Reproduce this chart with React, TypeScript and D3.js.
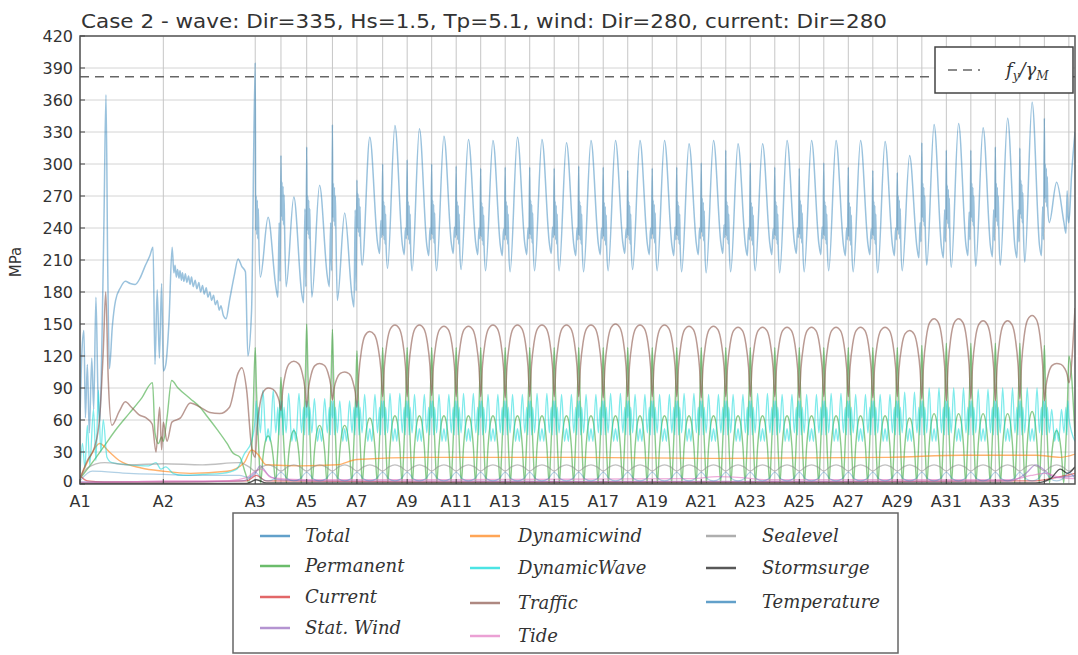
import React from "react";
import * as d3 from "d3";

type Pt = [number, number];

// ---------- axis data ----------
const supportLabels = ["A1","A2","A3","A4","A5","A6","A7","A8","A9","A10","A11","A12","A13","A14","A15","A16","A17","A18","A19","A20","A21","A22","A23","A24","A25","A26","A27","A28","A29","A30","A31","A32","A33","A34","A35","A36"];
const supportPos = [0, 34, 71.5, 82, 92.5, 103, 113, 123.5, 133.5, 143.5, 153.5, 163.5, 173.5, 183.5, 193.5, 203.5, 213.5, 223.5, 233.5, 243.5, 253.5, 263.5, 273.5, 283.5, 293.5, 303.5, 313.5, 323.5, 333.5, 343.5, 353.5, 363.5, 373.5, 383.5, 393.5, 403.5];
const xTickLabels = ["A1","A2","A3","A5","A7","A9","A11","A13","A15","A17","A19","A21","A23","A25","A27","A29","A31","A33","A35"];
const yTickValues = [0, 30, 60, 90, 120, 150, 180, 210, 240, 270, 300, 330, 360, 390, 420];
const xDomainEnd = 406;
const designLimit = 381.8; // f_y / gamma_M

// ---------- Total ----------
const totalHead: Pt[] = [[0,60],[0.8,125],[1.6,144],[2.2,62],[3,112],[3.8,48],[4.8,118],[5.6,70],[6.5,175],[7.3,88],[8.1,58],[9,140],[9.8,250],[10.6,365],[11.3,205],[12,108],[13.2,148],[14.5,172],[16.5,184],[18.5,190],[20.5,188],[22.5,187],[24.5,193],[26.5,204],[28.5,214],[29.8,222],[30.6,112],[31.5,182],[32.4,118],[33.3,188],[34,106],[35,112],[36.3,152],[37.6,222],[38.3,198],[38.8,205],[39.3,194],[39.8,201],[40.4,193],[40.8,200],[41.4,191],[41.8,198],[42.4,190],[43,197],[43.6,189],[44.3,195],[44.9,187],[45.5,194],[46.2,185],[47,191],[47.7,183],[48.5,189],[49.2,180],[50,186],[50.7,178],[51.5,184],[52.2,175],[53,180],[53.7,172],[54.5,177],[55.2,168],[56,172],[56.8,163],[57.5,167],[58.5,158],[59.6,155],[61,172],[63,196],[64.5,211],[66,204],[67.5,199],[68.5,120],[70,162]];
// spans A3-A4 ... A35-A36
const totalSpike = [395,308,316,337,285,300,304,300,298,296,297,297,296,298,297,294,296,297,301,313,301,297,296,301,297,294,292,320,313,313,316,315,343];
const totalPeak = [250,269,280,254,325,336,333,326,323,322,325,323,320,322,322,322,322,319,322,319,319,322,322,322,322,321,308,337,338,334,343,358,283];
const totalLow1 = [194,185,175,172,205,202,200,200,201,200,199,200,200,199,200,201,200,199,198,199,200,198,199,200,199,198,200,205,203,204,205,208,245];
const totalLow2 = [175,170,185,166,216,215,214,216,215,214,215,216,214,215,216,215,214,215,216,214,215,216,215,214,215,214,212,212,214,213,212,214,235];
const totalDark = [250,263,250,262,252,245,245,246,245,244,245,246,245,245,244,245,246,245,248,245,244,245,246,245,244,245,250,262,260,262,262,265,280];
const totalTail: Pt[] = [[403.5,245],[404.6,290],[406,330]];

// ---------- Traffic ----------
const trafficHead: Pt[] = [[0,5],[3,22],[6,35],[8,62],[9.5,125],[10.5,180],[11.5,100],[13,55],[16,68],[18.5,77],[21,72],[24,65],[27,62],[29.5,56],[31,30],[32.5,72],[33.3,32],[34,58],[35.5,40],[37.5,58],[41,62],[45,76],[49,72],[53,67],[57,66],[61,72],[64.5,104],[66,109],[68,88],[70,35]];
const trafficTrough = [25,69,72,79,72,82,82,83,82,82,81,82,82,82,81,82,82,82,81,82,82,82,81,82,82,81,82,80,78,80,78,80,78,95];
const trafficPeak = [90,115,113,105,143,149,149,148,148,149,149,149,149,149,150,149,149,148,148,147,147,147,147,147,147,147,144,155,155,153,153,158,113];
const trafficShape: Pt[] = [[0,0],[0.07,0.42],[0.18,0.76],[0.32,0.95],[0.5,1],[0.68,0.95],[0.82,0.76],[0.93,0.42]];
const trafficTail: Pt[] = [[406,165]];

// ---------- Permanent ----------
const permanentHead: Pt[] = [[0,5],[5,20],[10,36],[15,52],[20,66],[25,80],[29.6,95],[30.6,48],[32,38],[33.3,44],[34,40],[35.5,62],[37.4,97],[40,90],[45,80],[49,72],[52,63],[56,51],[60,38],[62.4,29],[65.3,25],[67.5,10],[69,1],[70.5,55]];
const permanentSupport = [128,100,150,145,125,128,128,128,128,128,128,128,128,128,128,128,128,128,128,128,128,128,128,128,128,128,128,130,132,132,132,132,130,120];
const permanentMid = [45,50,55,55,62,64,64,64,64,64,64,64,64,64,64,64,64,64,64,64,64,64,64,64,64,64,62,66,66,66,66,68,50];
// [fraction of span, reference (0 start support, 1 mid-span, 2 end support, -1 zero), factor]
const permanentShape: [number, number, number][] = [[0,0,1],[0.05,0,0.68],[0.1,0,0.42],[0.15,0,0.2],[0.21,-1,0],[0.3,1,0.55],[0.4,1,0.9],[0.5,1,1],[0.6,1,0.9],[0.7,1,0.55],[0.79,-1,0],[0.85,2,0.2],[0.9,2,0.42],[0.95,2,0.68]];
const permanentTail: Pt[] = [[406,45]];

// ---------- DynamicWave ----------
const dynWaveHead: Pt[] = [[0,10],[1,38],[2,15],[3,55],[4,18],[5.5,70],[6.5,22],[7.5,88],[8.5,30],[9.5,60],[11,25],[13,20],[20,18],[28,17],[31,20],[33,14],[35,16],[38,10],[42,8],[50,9],[58,10],[64,14],[67,28],[70,40]];
const dynWavePeak = [88,85,80,78,84,85,84,84,85,84,84,85,84,84,85,84,84,85,84,84,85,84,84,85,84,84,86,90,90,89,90,90,70];
// value -1 marks the span's peak value
const dynWaveShape: Pt[] = [[0,62],[0.04,78],[0.08,46],[0.12,72],[0.2,48],[0.3,-1],[0.42,40],[0.5,52],[0.58,40],[0.7,-1],[0.8,48],[0.88,72],[0.92,46],[0.96,78]];
const dynWaveTail: Pt[] = [[403.5,62],[406,40]];

// ---------- Sealevel / Temperature ----------
const sealevelHead: Pt[] = [[0,5],[3,15],[10,20],[20,18],[34,19],[50,18],[65,20],[69,16]];
const sealevelShape: Pt[] = [[0,12],[0.25,16],[0.5,18],[0.75,16]];
const temperatureHead: Pt[] = [[0,3],[5,12],[20,10],[34,9],[50,8],[65,8],[69,6]];
const temperatureShape: Pt[] = [[0,11],[0.25,5],[0.5,3],[0.75,5]];

// ---------- small series ----------
const dynamicWind: Pt[] = [[0,5],[4,25],[8,38],[12,30],[16,22],[25,15],[34,12],[45,10],[60,12],[67,20],[70,32],[72.5,28],[76,18],[90,17],[105,18],[113,23],[140,25],[200,25],[260,24],[330,25],[360,27],[390,27],[400,25],[406,28]];
const tide: Pt[] = [[0,1],[20,2],[34,3],[60,3],[68,6],[71.5,12],[74,14],[78,6],[90,4],[150,4],[250,5],[260,7],[270,6],[280,4],[380,4],[388,8],[394,10],[400,6],[406,5]];
const current: Pt[] = [[0,8],[3,3],[10,2],[34,2],[68,3],[72,8],[76,3],[150,2],[300,2],[390,3],[398,6],[406,10]];
const statWind: Pt[] = [[0,2],[34,2],[66,3],[71.5,10],[73.5,17],[77,8],[82,4],[100,3],[200,2.5],[300,2.5],[380,3],[386,10],[390,18],[394,12],[398,6],[406,8]];
const stormsurge: Pt[] = [[0,0.5],[68,0.5],[72,4],[76,1],[390,1],[396,5],[400,14],[403,10],[406,16]];

// ---------- builders ----------
const FIRST = 2; // index of A3
const spanCount = supportPos.length - 1 - FIRST;

function forSpans(fn: (a: number, b: number, s: number) => Pt[]): Pt[] {
  const out: Pt[] = [];
  for (let s = 0; s < spanCount; s++) {
    const a = supportPos[FIRST + s];
    const b = supportPos[FIRST + s + 1];
    out.push(...fn(a, b, s));
  }
  return out;
}

const totalData: Pt[] = [
  ...totalHead,
  ...forSpans((a, b, s) => {
    const L = b - a, d = totalDark[s];
    return [
      [a, totalSpike[s]], [a + 0.02 * L, d - 12], [a + 0.04 * L, d + 20], [a + 0.06 * L, d - 16],
      [a + 0.08 * L, d + 16], [a + 0.1 * L, d - 20], [a + 0.12 * L, d + 8], [a + 0.14 * L, d - 22],
      [a + 0.2 * L, totalLow1[s]], [a + 0.5 * L, totalPeak[s]],
      [a + 0.8 * L, totalLow2[s] + 10], [a + 0.88 * L, totalLow2[s]], [a + 0.93 * L, d - 5], [a + 0.965 * L, totalLow2[s] + 15],
    ] as Pt[];
  }),
  ...totalTail,
];

const trafficData: Pt[] = [
  ...trafficHead,
  ...forSpans((a, b, s) => trafficShape.map(([f, k]) => {
    const t = f <= 0.5 ? trafficTrough[s] : trafficTrough[s + 1];
    return [a + f * (b - a), t + k * (trafficPeak[s] - t)] as Pt;
  })),
  [supportPos[supportPos.length - 1], trafficTrough[trafficTrough.length - 1]],
  ...trafficTail,
];

const permanentData: Pt[] = [
  ...permanentHead,
  ...forSpans((a, b, s) => permanentShape.map(([f, r, k]) => {
    const ref = r === 0 ? permanentSupport[s] : r === 1 ? permanentMid[s] : r === 2 ? permanentSupport[s + 1] : 0;
    return [a + f * (b - a), Math.max(1, k * ref)] as Pt;
  })),
  [supportPos[supportPos.length - 1], permanentSupport[permanentSupport.length - 1]],
  ...permanentTail,
];

const dynWaveData: Pt[] = [
  ...dynWaveHead,
  ...forSpans((a, b, s) => dynWaveShape.map(([f, v]) => [a + f * (b - a), v < 0 ? dynWavePeak[s] : v] as Pt)),
  ...dynWaveTail,
];

const sealevelData: Pt[] = [
  ...sealevelHead,
  ...forSpans((a, b) => sealevelShape.map(([f, v]) => [a + f * (b - a), v] as Pt)),
  [supportPos[supportPos.length - 1], sealevelShape[0][1]],
  [xDomainEnd, sealevelShape[1][1]],
];

const temperatureData: Pt[] = [
  ...temperatureHead,
  ...forSpans((a, b) => temperatureShape.map(([f, v]) => [a + f * (b - a), v] as Pt)),
  [supportPos[supportPos.length - 1], temperatureShape[0][1]],
  [xDomainEnd, temperatureShape[1][1]],
];

const seriesNames = ["Total","Permanent","Current","Stat. Wind","Dynamicwind","DynamicWave","Traffic","Tide","Sealevel","Stormsurge","Temperature"];
const seriesData: Pt[][] = [totalData, permanentData, current, statWind, dynamicWind, dynWaveData, trafficData, tide, sealevelData, stormsurge, temperatureData];

// styles
const seriesColors = ["#1f77b4","#2ca02c","#d62728","#9467bd","#ff7f0e","#00d8d8","#8c564b","#e377c2","#8c8c8c","#111111","#1f77b4"];
const seriesOpacity = [0.45, 0.55, 0.6, 0.6, 0.6, 0.5, 0.6, 0.6, 0.55, 0.7, 0.35];
const seriesWidth = [1.5, 1.4, 1.3, 1.3, 1.4, 1.3, 1.5, 1.3, 1.3, 1.3, 1.2];

export default function App() {
  const W = 1078, H = 655;
  const L = 80, R = 1075, T = 36, B = 484;
  const x = d3.scaleLinear().domain([0, xDomainEnd]).range([L, R]);
  const y = d3.scaleLinear().domain([0, 420]).range([B, T]);
  const line = d3.line<Pt>().x((d) => x(d[0])).y((d) => y(d[1])).curve(d3.curveMonotoneX);

  const tickFont = "DejaVu Sans, Verdana, sans-serif";
  const legFont = "DejaVu Serif, serif";

  // legend layout
  const colX = [260, 470, 706];
  const textX = [305, 518, 762];
  const rowY = [[536, 566, 597, 628], [536, 568, 603, 636], [536, 568, 602]];
  const legendItems: { name: string; color: string; lx: number; tx: number; ly: number }[] = [];
  const perCol = [4, 4, 3];
  let idx = 0;
  perCol.forEach((n, c) => {
    for (let r = 0; r < n; r++) {
      legendItems.push({ name: seriesNames[idx], color: seriesColors[idx], lx: colX[c], tx: textX[c], ly: rowY[c][r] });
      idx++;
    }
  });

  return (
    <svg width={W} height={H} style={{ position: "absolute", left: 0, top: 0, background: "#fff" }} xmlns="http://www.w3.org/2000/svg">
      <defs>
        <clipPath id="plotClip">
          <rect x={L} y={T} width={R - L} height={B - T} />
        </clipPath>
      </defs>
      <rect x={0} y={0} width={W} height={H} fill="#fff" />
      {/* grid */}
      <g>
        {yTickValues.map((v) => (
          <line key={"gy" + v} x1={L} x2={R} y1={y(v)} y2={y(v)} stroke="#d4d4d4" strokeWidth={1} />
        ))}
        {supportPos.map((p, i) => (
          <line key={"gx" + i} x1={x(p)} x2={x(p)} y1={T} y2={B} stroke="#c6c6c6" strokeWidth={1} />
        ))}
      </g>
      {/* series */}
      <g clipPath="url(#plotClip)" fill="none">
        {seriesData.map((d, i) => (
          <path key={seriesNames[i]} d={line(d) || ""} stroke={seriesColors[i]} strokeOpacity={seriesOpacity[i]} strokeWidth={seriesWidth[i]} strokeLinejoin="round" />
        ))}
        <line x1={L} x2={R} y1={y(designLimit)} y2={y(designLimit)} stroke="#666" strokeWidth={1.5} strokeDasharray="9,6" />
      </g>
      {/* spines */}
      <rect x={L} y={T} width={R - L} height={B - T} fill="none" stroke="#555" strokeWidth={1.5} />
      {/* y ticks */}
      {yTickValues.map((v) => (
        <g key={"ty" + v}>
          <line x1={L} x2={L + 5} y1={y(v)} y2={y(v)} stroke="#444" strokeWidth={1} />
          <text x={73} y={y(v)} dy={v === 0 ? "0.2em" : "0.36em"} textAnchor="end" fontFamily={tickFont} fontSize={16} fill="#333">{v}</text>
        </g>
      ))}
      {/* x ticks */}
      {xTickLabels.map((lab) => {
        const p = supportPos[supportLabels.indexOf(lab)];
        return (
          <g key={"tx" + lab}>
            <line x1={x(p)} x2={x(p)} y1={B} y2={B - 5} stroke="#444" strokeWidth={1} />
            <text x={x(p)} y={507} textAnchor="middle" fontFamily={tickFont} fontSize={16} fill="#333">{lab}</text>
          </g>
        );
      })}
      <text transform="translate(21,262) rotate(-90)" textAnchor="middle" fontFamily={tickFont} fontSize={15} fill="#333">MPa</text>
      <text x={81} y={28} fontFamily={tickFont} fontSize={20} fill="#333" textLength={806} lengthAdjust="spacingAndGlyphs">Case 2 - wave: Dir=335, Hs=1.5, Tp=5.1, wind: Dir=280, current: Dir=280</text>

      {/* upper-right legend */}
      <g>
        <rect x={935} y={47} width={138} height={46} fill="#fff" stroke="#444" strokeWidth={1.5} />
        <line x1={948} x2={980} y1={70} y2={70} stroke="#666" strokeWidth={1.5} strokeDasharray="9,6" />
        <text x={1006} y={76} fontFamily={legFont} fontStyle="italic" fontSize={18} fill="#333">
          f<tspan fontSize={12} dy={4}>y</tspan><tspan dy={-4}>/γ</tspan><tspan fontSize={12} dy={4}>M</tspan>
        </text>
      </g>

      {/* bottom legend */}
      <g>
        <rect x={233} y={513} width={665} height={140} fill="#fff" stroke="#666" strokeWidth={1.5} />
        {legendItems.map((it) => (
          <g key={"lg" + it.name}>
            <line x1={it.lx} x2={it.lx + 30} y1={it.ly} y2={it.ly} stroke={it.color} strokeOpacity={0.7} strokeWidth={2.5} />
            <text x={it.tx} y={it.ly} dy="0.33em" fontFamily={legFont} fontStyle="italic" fontSize={18} fill="#333">{it.name}</text>
          </g>
        ))}
      </g>
    </svg>
  );
}
